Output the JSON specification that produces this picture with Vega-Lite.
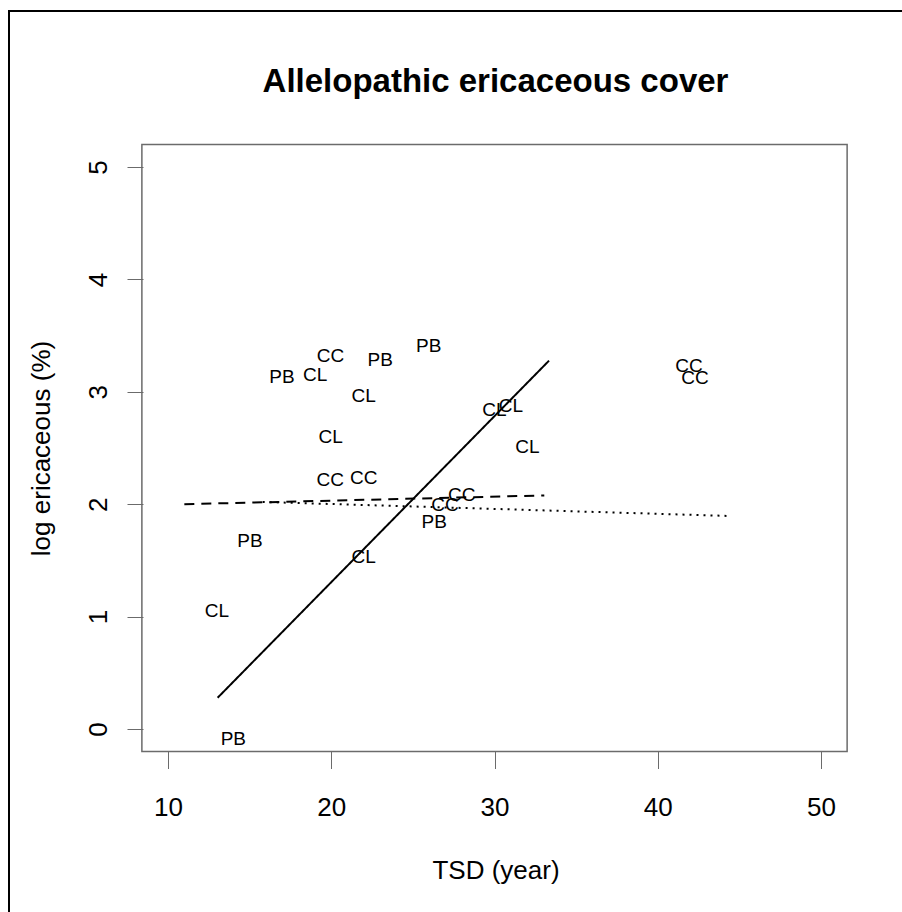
{
  "$schema": "https://vega.github.io/schema/vega-lite/v6.json",
  "autosize": {"type": "none"},
  "padding": {"left": 9, "top": 11, "right": -7, "bottom": -7},
  "width": 900,
  "height": 908,
  "background": "white",
  "config": {
    "font": "Liberation Sans",
    "view": {"stroke": "black", "strokeWidth": 2},
    "axis": {"grid": false, "domain": false}
  },
  "title": {
    "text": "Allelopathic ericaceous cover",
    "fontSize": 33,
    "fontWeight": "bold",
    "color": "black",
    "anchor": "middle",
    "frame": "group",
    "offset": 0,
    "baseline": "alphabetic",
    "dx": 36.5,
    "dy": 114
  },
  "datasets": {
    "sites": [
      {"site": "CC", "TSD": 19.95, "log_ericaceous": 3.33},
      {"site": "PB", "TSD": 16.98, "log_ericaceous": 3.14},
      {"site": "CL", "TSD": 19.02, "log_ericaceous": 3.16},
      {"site": "PB", "TSD": 23.0, "log_ericaceous": 3.29},
      {"site": "PB", "TSD": 25.97, "log_ericaceous": 3.42},
      {"site": "CL", "TSD": 21.99, "log_ericaceous": 2.97},
      {"site": "CL", "TSD": 19.97, "log_ericaceous": 2.61},
      {"site": "CC", "TSD": 19.94, "log_ericaceous": 2.22},
      {"site": "CC", "TSD": 21.99, "log_ericaceous": 2.24},
      {"site": "CL", "TSD": 29.99, "log_ericaceous": 2.85},
      {"site": "CL", "TSD": 31.01, "log_ericaceous": 2.88},
      {"site": "CL", "TSD": 32.01, "log_ericaceous": 2.52},
      {"site": "CC", "TSD": 27.99, "log_ericaceous": 2.09},
      {"site": "CC", "TSD": 26.97, "log_ericaceous": 2.0},
      {"site": "PB", "TSD": 26.31, "log_ericaceous": 1.85},
      {"site": "PB", "TSD": 15.02, "log_ericaceous": 1.68},
      {"site": "CL", "TSD": 21.99, "log_ericaceous": 1.54},
      {"site": "CL", "TSD": 13.0, "log_ericaceous": 1.06},
      {"site": "PB", "TSD": 14.0, "log_ericaceous": -0.08},
      {"site": "CC", "TSD": 41.91, "log_ericaceous": 3.24},
      {"site": "CC", "TSD": 42.28, "log_ericaceous": 3.13}
    ],
    "fits": [
      {"model": "M1", "TSD": 13.04, "log_ericaceous": 0.278},
      {"model": "M1", "TSD": 33.34, "log_ericaceous": 3.277},
      {"model": "M2", "TSD": 11.0, "log_ericaceous": 2.0},
      {"model": "M2", "TSD": 33.05, "log_ericaceous": 2.078},
      {"model": "M3", "TSD": 15.8, "log_ericaceous": 2.02},
      {"model": "M3", "TSD": 44.43, "log_ericaceous": 1.895}
    ]
  },
  "layer": [
    {
      "data": {"values": [{"panel": "plot region"}]},
      "mark": {"type": "rect", "fill": null, "stroke": "#6b6b6b", "strokeWidth": 1.5},
      "encoding": {
        "x": {"datum": 8.4, "type": "quantitative"},
        "x2": {"datum": 51.6},
        "y": {"datum": -0.2, "type": "quantitative"},
        "y2": {"datum": 5.2}
      }
    },
    {
      "data": {"name": "fits"},
      "mark": {"type": "line", "color": "black", "strokeWidth": 2},
      "encoding": {
        "x": {"field": "TSD", "type": "quantitative"},
        "y": {"field": "log_ericaceous", "type": "quantitative"},
        "detail": {"field": "model"},
        "strokeDash": {
          "field": "model",
          "type": "nominal",
          "scale": {"domain": ["M1", "M2", "M3"], "range": [[1, 0], [10, 7], [2, 5]]},
          "legend": null
        }
      }
    },
    {
      "data": {"name": "sites"},
      "mark": {"type": "text", "fontSize": 19, "color": "black", "align": "center", "baseline": "middle", "dy": 1},
      "encoding": {
        "x": {
          "field": "TSD",
          "type": "quantitative",
          "scale": {"domain": [0.2603, 55.39], "nice": false, "zero": false},
          "axis": {
            "title": "TSD (year)",
            "values": [10, 20, 30, 40, 50],
            "format": "d",
            "offset": -167.5,
            "domain": false,
            "grid": false,
            "ticks": true,
            "tickSize": 17,
            "tickWidth": 1,
            "tickColor": "#6b6b6b",
            "labelFontSize": 26,
            "labelColor": "black",
            "labelPadding": 47,
            "labelBaseline": "alphabetic",
            "labelFlush": false,
            "labelOverlap": false,
            "titleFontSize": 26,
            "titleFontWeight": "normal",
            "titleColor": "black",
            "titleX": 486.5,
            "titleY": 127,
            "titleAlign": "center",
            "titleBaseline": "alphabetic"
          }
        },
        "y": {
          "field": "log_ericaceous",
          "type": "quantitative",
          "scale": {"domain": [-1.6904, 6.3879], "nice": false, "zero": false},
          "axis": {
            "title": "log ericaceous (%)",
            "values": [0, 1, 2, 3, 4, 5],
            "format": "d",
            "offset": -134,
            "domain": false,
            "grid": false,
            "ticks": true,
            "tickSize": 16,
            "tickWidth": 1,
            "tickColor": "#6b6b6b",
            "labelFontSize": 26,
            "labelColor": "black",
            "labelAngle": -90,
            "labelAlign": "center",
            "labelBaseline": "alphabetic",
            "labelPadding": 21,
            "labelFlush": false,
            "labelOverlap": false,
            "titleFontSize": 26,
            "titleFontWeight": "normal",
            "titleColor": "black",
            "titleAngle": -90,
            "titleX": -94,
            "titleY": 437,
            "titleAlign": "center",
            "titleBaseline": "alphabetic"
          }
        },
        "text": {"field": "site"}
      }
    }
  ]
}
